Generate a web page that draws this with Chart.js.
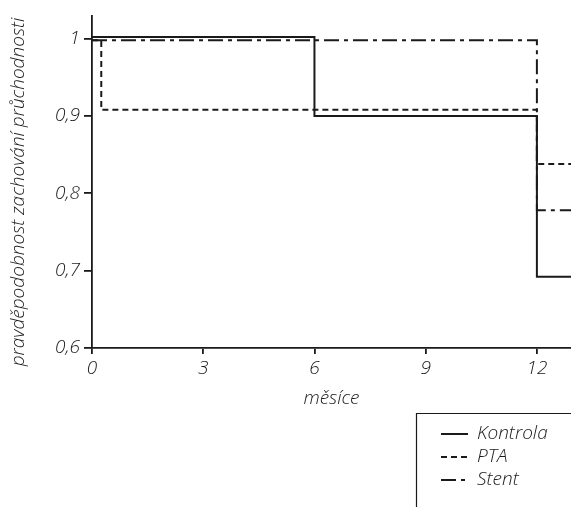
<!DOCTYPE html>
<html>
<head>
<meta charset="utf-8">
<script src="https://cdn.jsdelivr.net/npm/chart.js@4/dist/chart.umd.min.js"></script>
<style>
  html, body { margin: 0; padding: 0; background: #fff; }
  #c { display: block; }
</style>
</head>
<body>
<canvas id="c" width="571" height="507"></canvas>
<script>
// ---- data ----
const seriesNames = ['Kontrola', 'PTA', 'Stent'];
const kontrolaMonths = [0, 6, 12, 12.92];
const kontrolaValues = [1.002, 0.9, 0.692, 0.692];
const ptaMonths = [0, 0.25, 12, 12.92];
const ptaValues = [0.998, 0.908, 0.838, 0.838];
const stentMonths = [0, 12, 12.92];
const stentValues = [0.998, 0.778, 0.778];
const xTickValues = [0, 3, 6, 9, 12];
const yTickValues = [0.6, 0.7, 0.8, 0.9, 1.0];
const xTitle = 'měsíce';
const yTitle = 'pravděpodobnost zachování průchodnosti';

const INK = '#1a1a1a';
const FONT_FAMILY = "'Open Sans', 'Noto Sans', sans-serif";
const FS = 19;
const font = { family: FONT_FAMILY, size: FS, style: 'italic', weight: '300' };

function pts(xs, ys) { return xs.map((x, i) => ({ x: x, y: ys[i] })); }

const yTitlePlugin = {
  id: 'yTitle',
  afterDraw(chart) {
    const ctx = chart.ctx;
    ctx.save();
    ctx.fillStyle = INK;
    ctx.font = `italic 300 ${FS}px ${FONT_FAMILY}`;
    ctx.textAlign = 'center';
    ctx.textBaseline = 'middle';
    ctx.translate(19, 192);
    ctx.rotate(-Math.PI / 2);
    ctx.fillText(yTitle, 0, 0);
    ctx.restore();
  }
};

const legendBoxPlugin = {
  id: 'legendBox',
  afterDraw(chart) {
    const ctx = chart.ctx;
    const W = chart.width, H = chart.height;
    ctx.save();
    ctx.strokeStyle = INK;
    ctx.lineWidth = 1.2;
    ctx.beginPath();
    ctx.moveTo(416.5, H);
    ctx.lineTo(416.5, 413.5);
    ctx.lineTo(W, 413.5);
    ctx.stroke();
    const rows = [434, 457, 480];
    ctx.font = `italic 300 ${FS}px ${FONT_FAMILY}`;
    ctx.textBaseline = 'middle';
    ctx.textAlign = 'left';
    chart.data.datasets.forEach((ds, i) => {
      const y = rows[i];
      ctx.setLineDash(ds.borderDash || []);
      ctx.lineWidth = ds.borderWidth;
      ctx.strokeStyle = ds.borderColor;
      ctx.beginPath();
      ctx.moveTo(441, y);
      ctx.lineTo(468, y);
      ctx.stroke();
      ctx.setLineDash([]);
      ctx.fillStyle = INK;
      ctx.fillText(ds.label, 477, y);
    });
    ctx.restore();
  }
};

new Chart(document.getElementById('c'), {
  type: 'line',
  data: {
    datasets: [
      { label: seriesNames[0], data: pts(kontrolaMonths, kontrolaValues), stepped: true,
        borderColor: INK, borderWidth: 2, borderDash: [], pointRadius: 0, fill: false },
      { label: seriesNames[1], data: pts(ptaMonths, ptaValues), stepped: true,
        borderColor: INK, borderWidth: 2, borderDash: [6, 4], pointRadius: 0, fill: false },
      { label: seriesNames[2], data: pts(stentMonths, stentValues), stepped: true,
        borderColor: INK, borderWidth: 2, borderDash: [15, 5, 4, 5], pointRadius: 0, fill: false }
    ]
  },
  options: {
    responsive: false,
    animation: false,
    devicePixelRatio: 1,
    layout: { padding: { top: 12, left: 0, right: 0, bottom: 93 } },
    plugins: { legend: { display: false }, tooltip: { enabled: false } },
    scales: {
      x: {
        type: 'linear',
        min: 0,
        max: 12.92,
        afterBuildTicks: s => { s.ticks = xTickValues.map(v => ({ value: v })); },
        afterFit: s => { s.height = 66; },
        ticks: { font: font, color: INK, padding: 3, maxRotation: 0, autoSkip: false,
                 callback: v => String(v) },
        grid: { drawOnChartArea: false, tickLength: 6, color: INK, lineWidth: 1.8 },
        border: { color: INK, width: 1.8 },
        title: { display: true, text: xTitle, font: font, color: INK, padding: { top: 2, bottom: 4 } }
      },
      y: {
        type: 'linear',
        min: 0.6,
        max: 1.03,
        afterBuildTicks: s => { s.ticks = yTickValues.map(v => ({ value: v })); },
        afterFit: s => { s.width = 92; },
        ticks: { font: font, color: INK, padding: 4,
                 callback: v => String(Math.round(v * 10) / 10).replace('.', ',') },
        grid: { drawOnChartArea: false, tickLength: 8, color: INK, lineWidth: 1.8 },
        border: { color: INK, width: 1.8 }
      }
    }
  },
  plugins: [yTitlePlugin, legendBoxPlugin]
});
</script>
</body>
</html>
